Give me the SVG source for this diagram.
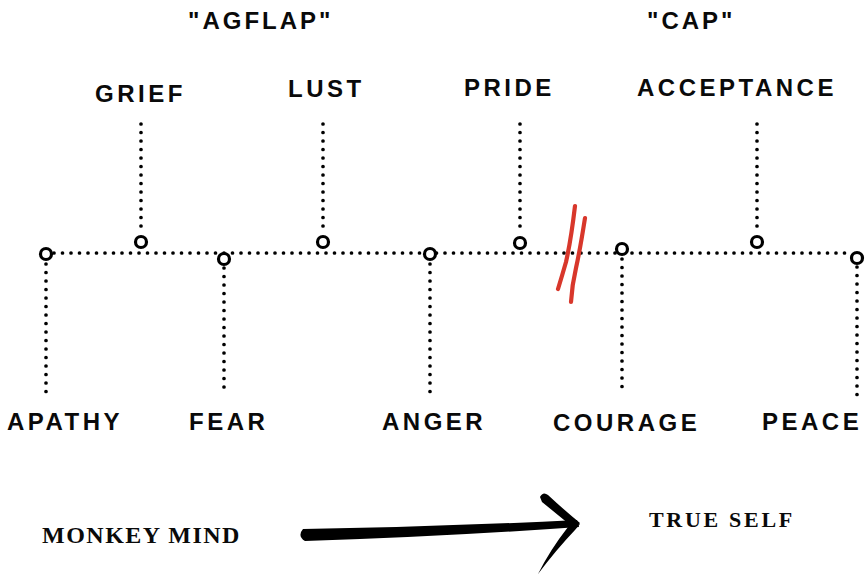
<svg xmlns="http://www.w3.org/2000/svg" width="868" height="576" viewBox="0 0 868 576">
<style>
.dot{fill:none;stroke:#000;stroke-width:3.7;stroke-linecap:round;stroke-dasharray:0 8.5}
.node{fill:#fff;stroke:#000;stroke-width:3.2}
.lbl{font-family:"Liberation Sans",Arial,sans-serif;font-weight:bold;font-size:24px;letter-spacing:3.5px;fill:#0a0a0a}
.hdr{font-family:"Liberation Sans",Arial,sans-serif;font-weight:bold;font-size:24px;letter-spacing:3px;fill:#0a0a0a}
.ser{font-family:"Liberation Serif","Times New Roman",serif;font-weight:bold;fill:#0a0a0a}
.red{fill:none;stroke:#d8372b;stroke-width:4.2;stroke-linecap:round}
</style>
<rect width="868" height="576" fill="#fff"/>
<g id="connectors">
<path class="dot" d="M54,253 H852"/>
<path class="dot" d="M141,124 V232"/>
<path class="dot" d="M323,124 V232"/>
<path class="dot" d="M520,124 V232"/>
<path class="dot" d="M757,124 V232"/>
<path class="dot" d="M46,264 V395"/>
<path class="dot" d="M224,268 V395"/>
<path class="dot" d="M430,264 V394"/>
<path class="dot" d="M622,259 V388"/>
<path class="dot" d="M857,267 V397"/>
</g>
<g id="break">
<path class="red" d="M575,206 Q571,240 566,262 Q562,276 558,289"/>
<path class="red" d="M585,218 Q580,250 576,268 Q572,285 571,302"/>
</g>
<g id="apathy"><circle class="node" cx="46" cy="254" r="5.5"/><text class="lbl" x="7" y="430">APATHY</text></g>
<g id="grief"><circle class="node" cx="141" cy="242" r="5.5"/><text class="lbl" x="95" y="102">GRIEF</text></g>
<g id="fear"><circle class="node" cx="224" cy="259" r="5.5"/><text class="lbl" x="189" y="430">FEAR</text></g>
<g id="lust"><circle class="node" cx="323" cy="242" r="5.5"/><text class="lbl" x="288" y="97">LUST</text></g>
<g id="anger"><circle class="node" cx="430" cy="254" r="5.5"/><text class="lbl" x="382" y="430">ANGER</text></g>
<g id="pride"><circle class="node" cx="520" cy="243" r="5.5"/><text class="lbl" x="464" y="96">PRIDE</text></g>
<g id="courage"><circle class="node" cx="622" cy="249" r="5.5"/><text class="lbl" x="553" y="431">COURAGE</text></g>
<g id="acceptance"><circle class="node" cx="757" cy="242" r="5.5"/><text class="lbl" x="637" y="96">ACCEPTANCE</text></g>
<g id="peace"><circle class="node" cx="857" cy="258" r="5.5"/><text class="lbl" x="762" y="430">PEACE</text></g>
<g id="headers">
<text class="hdr" x="188" y="29">"AGFLAP"</text>
<text class="hdr" x="647" y="29" letter-spacing="1.5">"CAP"</text>
</g>
<g id="bottom">
<text class="ser" x="42" y="543" font-size="24" letter-spacing="1.5">MONKEY MIND</text>
<text class="ser" x="649" y="527" font-size="22" letter-spacing="2.7">TRUE SELF</text>
<g id="arrow" fill="#000">
<path d="M303,529 Q440,527 577,520 L579,527 Q440,537 305,541 Q297,536 303,529 Z"/>
<path d="M540,497 Q543,491 548,495 Q563,509 580,523 L575,529 Q558,515 542,502 Z"/>
<path d="M580,524 L575,530 Q556,550 538,574 Q550,550 568,527 Z"/>
</g>
</g>
</svg>
